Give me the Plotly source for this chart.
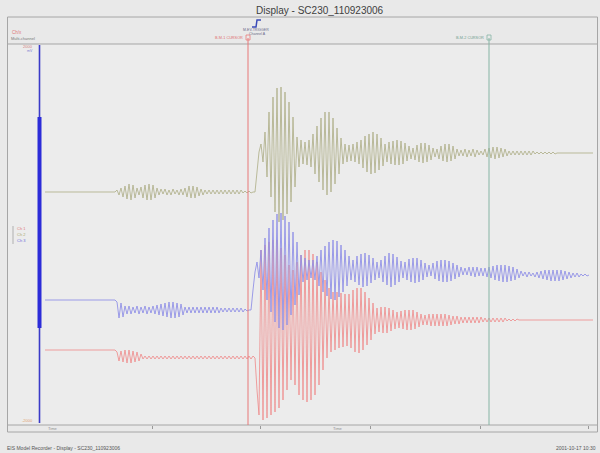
import plotly.graph_objects as go

# ---------------- data ----------------
TITLE = "Display - SC230_110923006"
FOOTER_LEFT = "EIS Model Recorder - Display - SC230_110923006"
FOOTER_RIGHT = "2001-10-17 10:30"
CHANNELS = ["Ch 1", "Ch 2", "Ch 3"]

SAMPLE_START = 37      # first sample (time units)
SAMPLE_STEP = 2        # time between samples

# channel 2 (olive) - amplitude relative to its own baseline
OLIVE_PRE = ([0] * 36 +
             [2, -3, 4, -5, 6, -7, 8, -8, 7, -6, 4, -3,
              5, -6, 7, -8, 8, -8, 7, -6, 4, -3,
              3, -2, 3, -3, 2, -3, 3, -2, 2, -3, 3, -3,
              4, -5, 6, -6, 6, -6, 5, -4, 3, -3,
              2, -2, 2, -2, 2, -2, 2, -2, 2, -2, 2, -2, 2, -2, 2, -2, 2, -2,
              2, -1, 1, -1, 1, -1, 0, 0])
OLIVE_EVENT = [20, 40, 48, 30,
               60, 15, 80, -5, 95, -20, 104, -30, 105, -28, 100, -22, 90, -10, 75, 5,
               55, 25, 52, 28, 50, 27, 52, 25,
               58, 18, 66, 10, 74, 2, 80, -3, 80, 0, 74, 8, 64, 18, 54,
               28, 48, 30, 47, 31, 48, 30, 50, 28, 52,
               24, 56, 20, 58, 18, 60, 19, 58, 22, 54, 26,
               48, 30, 50, 28, 51, 27, 52, 27, 51, 28, 49, 31, 46, 33,
               44, 32, 47, 30, 49, 29, 49, 30, 47, 32, 44, 35,
               43, 33, 46, 31, 48, 30, 48, 31, 46, 33, 43,
               36, 42, 36, 43, 35, 42, 36, 43, 35, 42, 37, 41, 37,
               43, 35, 44, 34, 45, 33, 45, 34, 44, 35, 43, 36,
               41, 37, 41, 37, 41, 37, 41, 37, 41, 37, 41, 37,
               41, 38, 40, 38, 40, 38, 40, 38, 40, 38, 40, 38] + [39] * 19
OLIVE = OLIVE_PRE + OLIVE_EVENT

# channel 3 (blue)
BLUE_PRE = ([0] * 36 +
            [-2, -18, -3, -17,
             -6, -14, -6, -14, -7, -13, -6, -14, -7, -13, -6, -14, -7, -13,
             -6, -14, -5, -15,
             -4, -16, -3, -17, -2, -18, -2, -18, -3, -17, -4, -15,
             -7, -13, -7, -13, -7, -13, -7, -13, -7, -13, -7, -13, -7, -13,
             -7, -13, -7, -13, -8, -12, -8, -12, -8, -12, -8, -12, -8, -12,
             -8, -12, -9, -11, -10, -10])
BLUE_EVENT = [10, 28, 38, 22,
              50, 10, 62, 0, 72, -12, 80, -22, 86, -28, 87, -30, 84, -25, 78, -15,
              68, -5, 58, 5,
              45, 18, 42, 20, 40, 22, 40, 20, 44,
              14, 50, 8, 54, 4, 58, 1, 60, 0, 59, 3, 55, 8, 50, 14, 44,
              20, 40, 18, 44, 15, 46, 13, 47, 14, 45, 17, 42, 20, 38,
              22, 40, 18, 44, 15, 47, 13, 46, 15, 43, 18, 39,
              22, 38, 20, 41, 18, 42, 17, 42, 18, 40, 20, 37, 23,
              35, 24, 37, 21, 39, 19, 40, 18, 40, 18, 39, 19, 37, 21, 35, 23, 33, 25,
              32, 25, 33, 24, 33, 23, 33, 24, 32, 24, 32, 23, 33, 22,
              34, 20, 35, 19, 35, 18, 35, 18, 34, 19, 33, 20, 31, 22, 29, 24,
              28, 23, 28, 24, 27, 23, 28, 22, 29, 21, 30,
              20, 30, 19, 30, 19, 30, 19, 30, 20, 29, 21, 28, 22, 27, 23,
              27, 23, 26, 24, 26, 24, 25]
BLUE = BLUE_PRE + BLUE_EVENT

# channel 1 (red)
RED_PRE = ([0] * 36 +
           [-2, -11, -1, -12, 0, -13, 0, -13, -1, -12, -2, -11, -4] +
           [-9, -6] * 28 + [-8])
RED_EVENT = [-40, -65, 100, -70,
             105, -68, 108, -65, 110, -62, 110, -58, 102, -50, 95, -40, 85, -30, 80,
             -35, 88,
             -45, 95, -50, 100, -52, 100, -50, 96, -45, 88, -35, 78,
             -20, 70, -8, 62, -2, 58, 0, 58, 2, 57, 3, 56, 4, 56, 2,
             60, -2, 62, -3, 62, 0, 58, 5, 52, 10, 47, 16,
             42, 18, 43, 17, 43, 17, 42, 19, 40, 21,
             38, 22, 39, 21, 40, 20, 40, 20, 40, 21, 38, 23, 36, 25,
             35, 25, 36, 24, 36, 24, 36, 24, 36, 24, 36, 24, 35, 25, 34, 26, 34, 26,
             33, 27, 33,
             27, 33, 27, 33, 27, 33, 27, 33, 28, 32, 28, 32, 28, 32, 28, 32, 28, 32,
             28, 32, 29, 31, 29, 31, 29, 31, 30] + [30] * 37
RED = RED_PRE + RED_EVENT

CH_OFFSETS = {"red": -115.5, "blue": -65.5, "olive": 42.5}
CURSOR_T = [240, 481]
TICK_T = [144, 252, 362, 472, 580]

# ---------------- layout helpers ----------------
W, H = 600, 453
PL, PR, PT, PB = 8, 597, 44, 425
PW, PH = PR - PL, PB - PT


def px(x):
    return (x - PL) / PW


def py(y):
    return (PB - y) / PH


fig = go.Figure()
for vals, col, key in [(RED, "#ef8e8e", "red"), (BLUE, "#8c8ce6", "blue"),
                       (OLIVE, "#b0b08a", "olive")]:
    tt = [SAMPLE_START + SAMPLE_STEP * i for i in range(len(vals))]
    fig.add_trace(go.Scatter(x=tt, y=[v + CH_OFFSETS[key] for v in vals],
                             mode="lines", line=dict(color=col, width=0.85),
                             hoverinfo="skip", showlegend=False))

shapes = []
grey = "#a6a6a6"
# outer frame
shapes.append(dict(type="rect", xref="paper", yref="paper", x0=px(7.5), x1=px(597.5),
                   y0=py(432), y1=py(17), line=dict(color=grey, width=1)))
# header separator, plot bottom
for yy in [44, 425]:
    shapes.append(dict(type="line", xref="paper", yref="paper", x0=px(7.5), x1=px(597.5),
                       y0=py(yy), y1=py(yy), line=dict(color=grey, width=1.2)))
# cursors
for ct, col in zip(CURSOR_T, ["#e87878", "#86b4a4"]):
    shapes.append(dict(type="line", xref="x", yref="paper", x0=ct, x1=ct,
                       y0=0, y1=py(38), line=dict(color=col, width=1)))
    shapes.append(dict(type="rect", xref="x", yref="paper", x0=ct - 2, x1=ct + 2,
                       y0=py(40), y1=py(35), line=dict(color=col, width=0.8)))
# blue scale bar
shapes.append(dict(type="line", xref="paper", yref="paper", x0=px(39.5), x1=px(39.5),
                   y0=py(423), y1=py(45), line=dict(color="#3a3ac8", width=1.6)))
shapes.append(dict(type="rect", xref="paper", yref="paper", x0=px(37.5), x1=px(41.5),
                   y0=py(328), y1=py(117), line=dict(width=0), fillcolor="#2c2cd8"))
# bracket left of channel labels
shapes.append(dict(type="line", xref="paper", yref="paper", x0=px(13), x1=px(13),
                   y0=py(244), y1=py(226), line=dict(color="#b0b0b0", width=1)))
# trigger glyph
path = "M {} {} L {} {} L {} {} L {} {}".format(px(252), py(27), px(256), py(27),
                                                px(257), py(20), px(261), py(20))
shapes.append(dict(type="path", xref="paper", yref="paper", path=path,
                   line=dict(color="#3a4ab8", width=1.5)))

ann = []


def txt(x, y, s, size=5, color="#808080", anchor="left"):
    ann.append(dict(x=px(x), y=py(y), xref="paper", yref="paper", text=s,
                    showarrow=False, xanchor=anchor, yanchor="middle",
                    font=dict(size=size, color=color, family="Liberation Sans")))


txt(320, 10, TITLE, size=10, color="#404040", anchor="center")
txt(10, 33, "Ch/x", 4.5, "#e07878")
txt(9, 38.5, "Multi-channel", 4, "#7a7a7a")
txt(256, 29.5, "M-EV-TRIGGER", 3.5, "#6a6a8a", "center")
txt(257, 33.5, "Channel A", 3.5, "#6a6a8a", "center")
txt(245, 38, "B-M-1 CURSOR", 3.8, "#e07070", "right")
txt(486, 38, "B-M-2 CURSOR", 3.8, "#70a090", "right")
txt(35, 47, "2000", 4, "#d08080", "right")
txt(35, 51, "mV", 3.5, "#8080d0", "right")
txt(35, 420, "-2000", 4, "#e0a070", "right")
for i, (nm, col) in enumerate(zip(CHANNELS, ["#e07878", "#a8a870", "#6a6ad8"])):
    txt(15, 229 + 5.5 * i, nm, 4, col)
txt(46, 428.5, "Time", 4, "#909090")
txt(338, 428.5, "Time", 4, "#909090", "center")
txt(5, 448, FOOTER_LEFT, 5, "#555555")
txt(598, 448, FOOTER_RIGHT, 5, "#555555", "right")

fig.update_layout(
    width=W, height=H,
    margin=dict(l=PL, r=W - PR, t=PT, b=H - PB),
    paper_bgcolor="#e9e9e9", plot_bgcolor="#ececec",
    shapes=shapes, annotations=ann, showlegend=False,
    xaxis=dict(range=[0, PW], showgrid=False, zeroline=False, showline=False,
               tickvals=TICK_T, ticktext=["" for _ in TICK_T], ticks="outside",
               ticklen=3, tickcolor="#999999", fixedrange=True),
    yaxis=dict(range=[-PH / 2, PH / 2], visible=False, showgrid=False,
               zeroline=False, fixedrange=True),
)

fig.write_html("out.html", config={"displayModeBar": False})
